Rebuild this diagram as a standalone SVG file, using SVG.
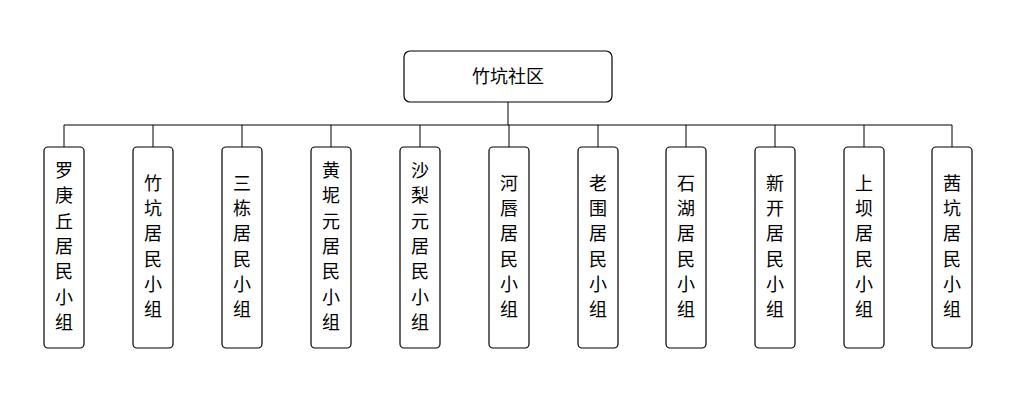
<svg xmlns="http://www.w3.org/2000/svg" width="1012" height="413" viewBox="0 0 1012 413">
<style>
.b{fill:#fff;stroke:#000;stroke-width:1.2}
.t{font-family:"Noto Sans CJK SC","Liberation Sans",sans-serif;font-size:18px;fill:#000;text-anchor:middle}
.c{fill:none;stroke:#000;stroke-width:1}
</style>
<rect width="1012" height="413" fill="#fff"/>
<g id="connectors">
<path class="c" d="M508 102V125M64 125H952M64 125V147M153 125V147M242 125V147M331 125V147M420 125V147M509 125V147M598 125V147M686 125V147M775 125V147M864 125V147M952 125V147"/>
</g>
<g id="root"><rect class="b" x="404" y="51" width="208" height="51" rx="6"/><text class="t" x="508" y="83">竹坑社区</text></g>
<g id="n1"><rect class="b" x="44" y="147" width="40" height="201" rx="4"/><text class="t" x="64"><tspan x="64" y="177">罗</tspan><tspan x="64" y="202.3">庚</tspan><tspan x="64" y="227.6">丘</tspan><tspan x="64" y="252.9">居</tspan><tspan x="64" y="278.2">民</tspan><tspan x="64" y="303.5">小</tspan><tspan x="64" y="328.8">组</tspan></text></g>
<g id="n2"><rect class="b" x="133" y="147" width="40" height="201" rx="4"/><text class="t"><tspan x="153" y="189.6">竹</tspan><tspan x="153" y="214.9">坑</tspan><tspan x="153" y="240.2">居</tspan><tspan x="153" y="265.5">民</tspan><tspan x="153" y="290.8">小</tspan><tspan x="153" y="316.1">组</tspan></text></g>
<g id="n3"><rect class="b" x="222" y="147" width="40" height="201" rx="4"/><text class="t"><tspan x="242" y="189.6">三</tspan><tspan x="242" y="214.9">栋</tspan><tspan x="242" y="240.2">居</tspan><tspan x="242" y="265.5">民</tspan><tspan x="242" y="290.8">小</tspan><tspan x="242" y="316.1">组</tspan></text></g>
<g id="n4"><rect class="b" x="311" y="147" width="40" height="201" rx="4"/><text class="t"><tspan x="331" y="177">黄</tspan><tspan x="331" y="202.3">坭</tspan><tspan x="331" y="227.6">元</tspan><tspan x="331" y="252.9">居</tspan><tspan x="331" y="278.2">民</tspan><tspan x="331" y="303.5">小</tspan><tspan x="331" y="328.8">组</tspan></text></g>
<g id="n5"><rect class="b" x="400" y="147" width="40" height="201" rx="4"/><text class="t"><tspan x="420" y="177">沙</tspan><tspan x="420" y="202.3">梨</tspan><tspan x="420" y="227.6">元</tspan><tspan x="420" y="252.9">居</tspan><tspan x="420" y="278.2">民</tspan><tspan x="420" y="303.5">小</tspan><tspan x="420" y="328.8">组</tspan></text></g>
<g id="n6"><rect class="b" x="489" y="147" width="40" height="201" rx="4"/><text class="t"><tspan x="509" y="189.6">河</tspan><tspan x="509" y="214.9">唇</tspan><tspan x="509" y="240.2">居</tspan><tspan x="509" y="265.5">民</tspan><tspan x="509" y="290.8">小</tspan><tspan x="509" y="316.1">组</tspan></text></g>
<g id="n7"><rect class="b" x="578" y="147" width="40" height="201" rx="4"/><text class="t"><tspan x="598" y="189.6">老</tspan><tspan x="598" y="214.9">围</tspan><tspan x="598" y="240.2">居</tspan><tspan x="598" y="265.5">民</tspan><tspan x="598" y="290.8">小</tspan><tspan x="598" y="316.1">组</tspan></text></g>
<g id="n8"><rect class="b" x="666" y="147" width="40" height="201" rx="4"/><text class="t"><tspan x="686" y="189.6">石</tspan><tspan x="686" y="214.9">湖</tspan><tspan x="686" y="240.2">居</tspan><tspan x="686" y="265.5">民</tspan><tspan x="686" y="290.8">小</tspan><tspan x="686" y="316.1">组</tspan></text></g>
<g id="n9"><rect class="b" x="755" y="147" width="40" height="201" rx="4"/><text class="t"><tspan x="775" y="189.6">新</tspan><tspan x="775" y="214.9">开</tspan><tspan x="775" y="240.2">居</tspan><tspan x="775" y="265.5">民</tspan><tspan x="775" y="290.8">小</tspan><tspan x="775" y="316.1">组</tspan></text></g>
<g id="n10"><rect class="b" x="844" y="147" width="40" height="201" rx="4"/><text class="t"><tspan x="864" y="189.6">上</tspan><tspan x="864" y="214.9">坝</tspan><tspan x="864" y="240.2">居</tspan><tspan x="864" y="265.5">民</tspan><tspan x="864" y="290.8">小</tspan><tspan x="864" y="316.1">组</tspan></text></g>
<g id="n11"><rect class="b" x="932" y="147" width="40" height="201" rx="4"/><text class="t"><tspan x="952" y="189.6">茜</tspan><tspan x="952" y="214.9">坑</tspan><tspan x="952" y="240.2">居</tspan><tspan x="952" y="265.5">民</tspan><tspan x="952" y="290.8">小</tspan><tspan x="952" y="316.1">组</tspan></text></g>
</svg>
